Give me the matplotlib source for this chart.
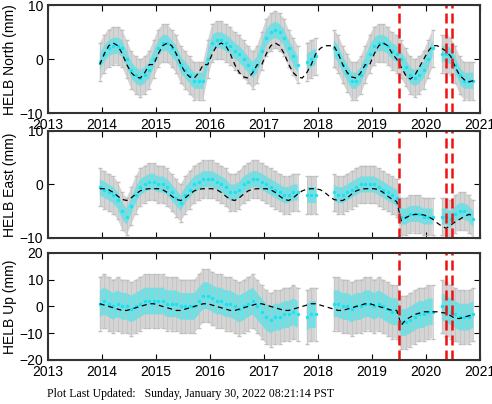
import numpy as np, matplotlib
matplotlib.use("Agg")
import matplotlib.pyplot as plt

nan = np.nan
# monthly samples, Dec 2013 .. Nov 2020
north_obs = [-0.5,
 1, 2, 2.5, 2.5, 2, 0, -2, -3, -3.5, -3, -2, 0,
 2, 3, 3, 2, 1, -1, -2, -3, -4, -4, -4, 0,
 3, 3.5, 3.5, 3, 2.5, 1.5, 1, 0, -1, -2, -1, 1.5,
 4, 5, 5.5, 5, 4, 2, 0.5, -1, nan, -0.5, 0, 0.5,
 nan, nan, nan, 2, 1, -1, -2.5, -4, -4, -3, -1, 1,
 2.5, 3, 3, 2.5, 1.5, 1, 0, -1.5, -3, -3.5, -3, -2,
 0, 2, nan, 1, 1, 0.5, -1, -3, -4, -4, -4]
north_mod = [-1,
 1, 2.5, 3, 2.5, 1, -1, -2.5, -3.3, -3.5, -2.5, -1, -1,
 1, 2.5, 3, 2.5, 1, -1, -2.5, -3.3, -3.5, -2.5, -1, -1,
 1, 2.5, 3, 2.5, 1, -1, -2.5, -3.3, -3.5, -2.5, -1, -1,
 1, 2.5, 3, 2.5, 1, -1, -2.5, -3.3, -3.5, -2.5, -1, 1,
 2, 2.5, 2.5, 2.5, 1, -1, -2.5, -3.3, -3.5, -2.5, -1, -1,
 1, 2.5, 3, 2.5, 1, 0, -1.5, -3, -3.7, -3, -1.5, 0,
 1.5, 2.5, 2.5, 2, 1.5, 0.5, -1.5, -3, -3.8, -4.2, -4]
east_obs = [-0.5,
 -1, -1.5, -2, -3, -5, -6, -4, -2, -0.5, 0, 0.5, 0.5,
 0, 0, -0.5, -1.5, -2.5, -3.5, -2, -1, 0, 0.5, 1, 1,
 1, 0.5, 0, -0.5, -1.5, -1.5, -1, 0, 0.5, 1, 1, 0.5,
 0, -0.5, -1, -1.5, -2, -2, -1.5, -1.5, nan, -2, -2, -2,
 nan, nan, nan, -1.5, -2, -2, -1.5, -1, -0.5, 0, 0, 0,
 0, -0.5, -1, -1.5, -2, -2.5, -6, -6, -5.5, -5.5, -5.5, -6,
 -6, -6, nan, -6, -6, -6.5, -5.5, -5, -5, -5.5, -6.5]
east_mod = [-0.8,
 -0.8, -1, -1.5, -2.2, -2.8, -3, -2.5, -1.8, -1.2, -0.9, -0.8, -0.8,
 -0.8, -1, -1.5, -2.2, -2.8, -3, -2.5, -1.8, -1.2, -0.9, -0.8, -0.8,
 -0.8, -1, -1.5, -2.2, -2.8, -3, -2.5, -1.8, -1.2, -0.9, -0.8, -0.8,
 -0.8, -1, -1.5, -2.2, -2.8, -3, -2.5, -1.8, -1.2, -0.9, -0.8, -0.8,
 -1, -1.5, -2.2, -2.8, -3, -3, -2.5, -1.8, -1.2, -0.9, -0.8, -0.8,
 -0.8, -1, -1.5, -2.2, -2.8, -3.2, -6.8, -6.2, -5.8, -5.6, -5.6, -5.7,
 -6, -6.5, -7.2, -7.8, -8.2, -7.6, -7, -6.5, -6, -5.6, -5.8]
up_obs = [1,
 2, 1, 0, 1, 0, 0, -1, 0, 1, 2, 2, 2,
 2, 2, 1, 1, 1, 0, 0, 0, 0, 2, 4, 4,
 3, 2, 2, 1, 1, 0, -1, 0, 1, 2, 0, -2,
 -4, -5, -4, -4, -3, -3, -2, -3, nan, -4, -3, -3,
 nan, nan, nan, 1, 1, 0, 0, -1, 0, 0, 1, 1,
 0, 1, 0, -1, -2, -2, -6, -6, -5, -4, -3, -3,
 -2, -2, nan, 0, -1, -2, -3, -4, -4, -4, -3]
up_mod = [1,
 0.5, 0, -0.5, -1, -1.5, -1.5, -1, -0.5, 0, 0.5, 1, 1,
 0.5, 0, -0.5, -1, -1.5, -1.5, -1, -0.5, 0, 0.5, 1, 1,
 0.5, 0, -0.5, -1, -1.5, -1.5, -1, -0.5, 0, 0.5, 1, 1,
 0.5, 0, -0.5, -1, -1.5, -1.5, -1, -0.5, 0, 0.5, 1, 1,
 0.5, 0, -0.5, -1, -1.5, -1.5, -1, -0.5, 0, 0.5, 1, 1,
 0.5, 0, -0.5, -1, -1.5, -1.5, -7, -5, -4, -3, -2.5, -2,
 -2, -2, -2, -2.3, -2.5, -3.5, -4.5, -4.5, -4, -3.5, -3]
# typical error-bar half-width and cyan scatter half-width per component (mm)
err = {"North": 3.5, "East": 3.5, "Up": 10}
scat = {"North": 1.5, "East": 1.5, "Up": 5}
ylims = {"North": (-10, 10), "East": (-10, 10), "Up": (-20, 20)}
yticks = {"North": [-10, 0, 10], "East": [-10, 0, 10], "Up": [-20, -10, 0, 10, 20]}
events = [2019.5, 2020.37, 2020.48]
t = 2013 + (11 + np.arange(len(north_obs)) + 0.5) / 12

plt.rcParams["font.family"] = ["Liberation Sans", "DejaVu Sans"]
fig = plt.figure(figsize=(4.92, 4.04), dpi=100)
pos = [(0.0976, 0.720, 0.878, 0.267), (0.0976, 0.411, 0.878, 0.265), (0.0976, 0.109, 0.878, 0.265)]
series = [("North", north_obs, north_mod), ("East", east_obs, east_mod), ("Up", up_obs, up_mod)]
for p, (name, obs, mod) in zip(pos, series):
    ax = fig.add_axes(p)
    obs = np.array(obs, float)
    ax.fill_between(t, obs - err[name], obs + err[name], color="#d4d4d4", lw=0)
    ax.errorbar(t, obs, yerr=err[name], fmt="none", ecolor="#c0c0c0", elinewidth=0.5, capsize=1.5)
    ax.fill_between(t, obs - scat[name], obs + scat[name], color="#40e8f0", alpha=0.7, lw=0)
    ax.plot(t, obs, "o", color="#20e0f0", ms=2.5, mec="none")
    ax.plot(t, mod, "k--", lw=0.9, dashes=(4, 3))
    for e in events:
        ax.axvline(e, color="#ee1111", ls="--", lw=1.8, dashes=(4, 2))
    ax.set_xlim(2013, 2021); ax.set_ylim(*ylims[name])
    ax.set_xticks(range(2013, 2022)); ax.set_yticks(yticks[name])
    ax.tick_params(direction="in", top=True, right=True, labelsize=10, length=4)
    for s in ax.spines.values():
        s.set_linewidth(1.5); s.set_color("#333333")
    ax.set_ylabel(f"HELB {name} (mm)", fontsize=10, labelpad=2)
    if name == "East":
        ax.set_xticklabels([])
fig.text(0.095, 0.018, "Plot Last Updated:   Sunday, January 30, 2022 08:21:14 PST",
         family="Liberation Serif", fontsize=8.5)
fig.savefig("out.png", dpi=100)
